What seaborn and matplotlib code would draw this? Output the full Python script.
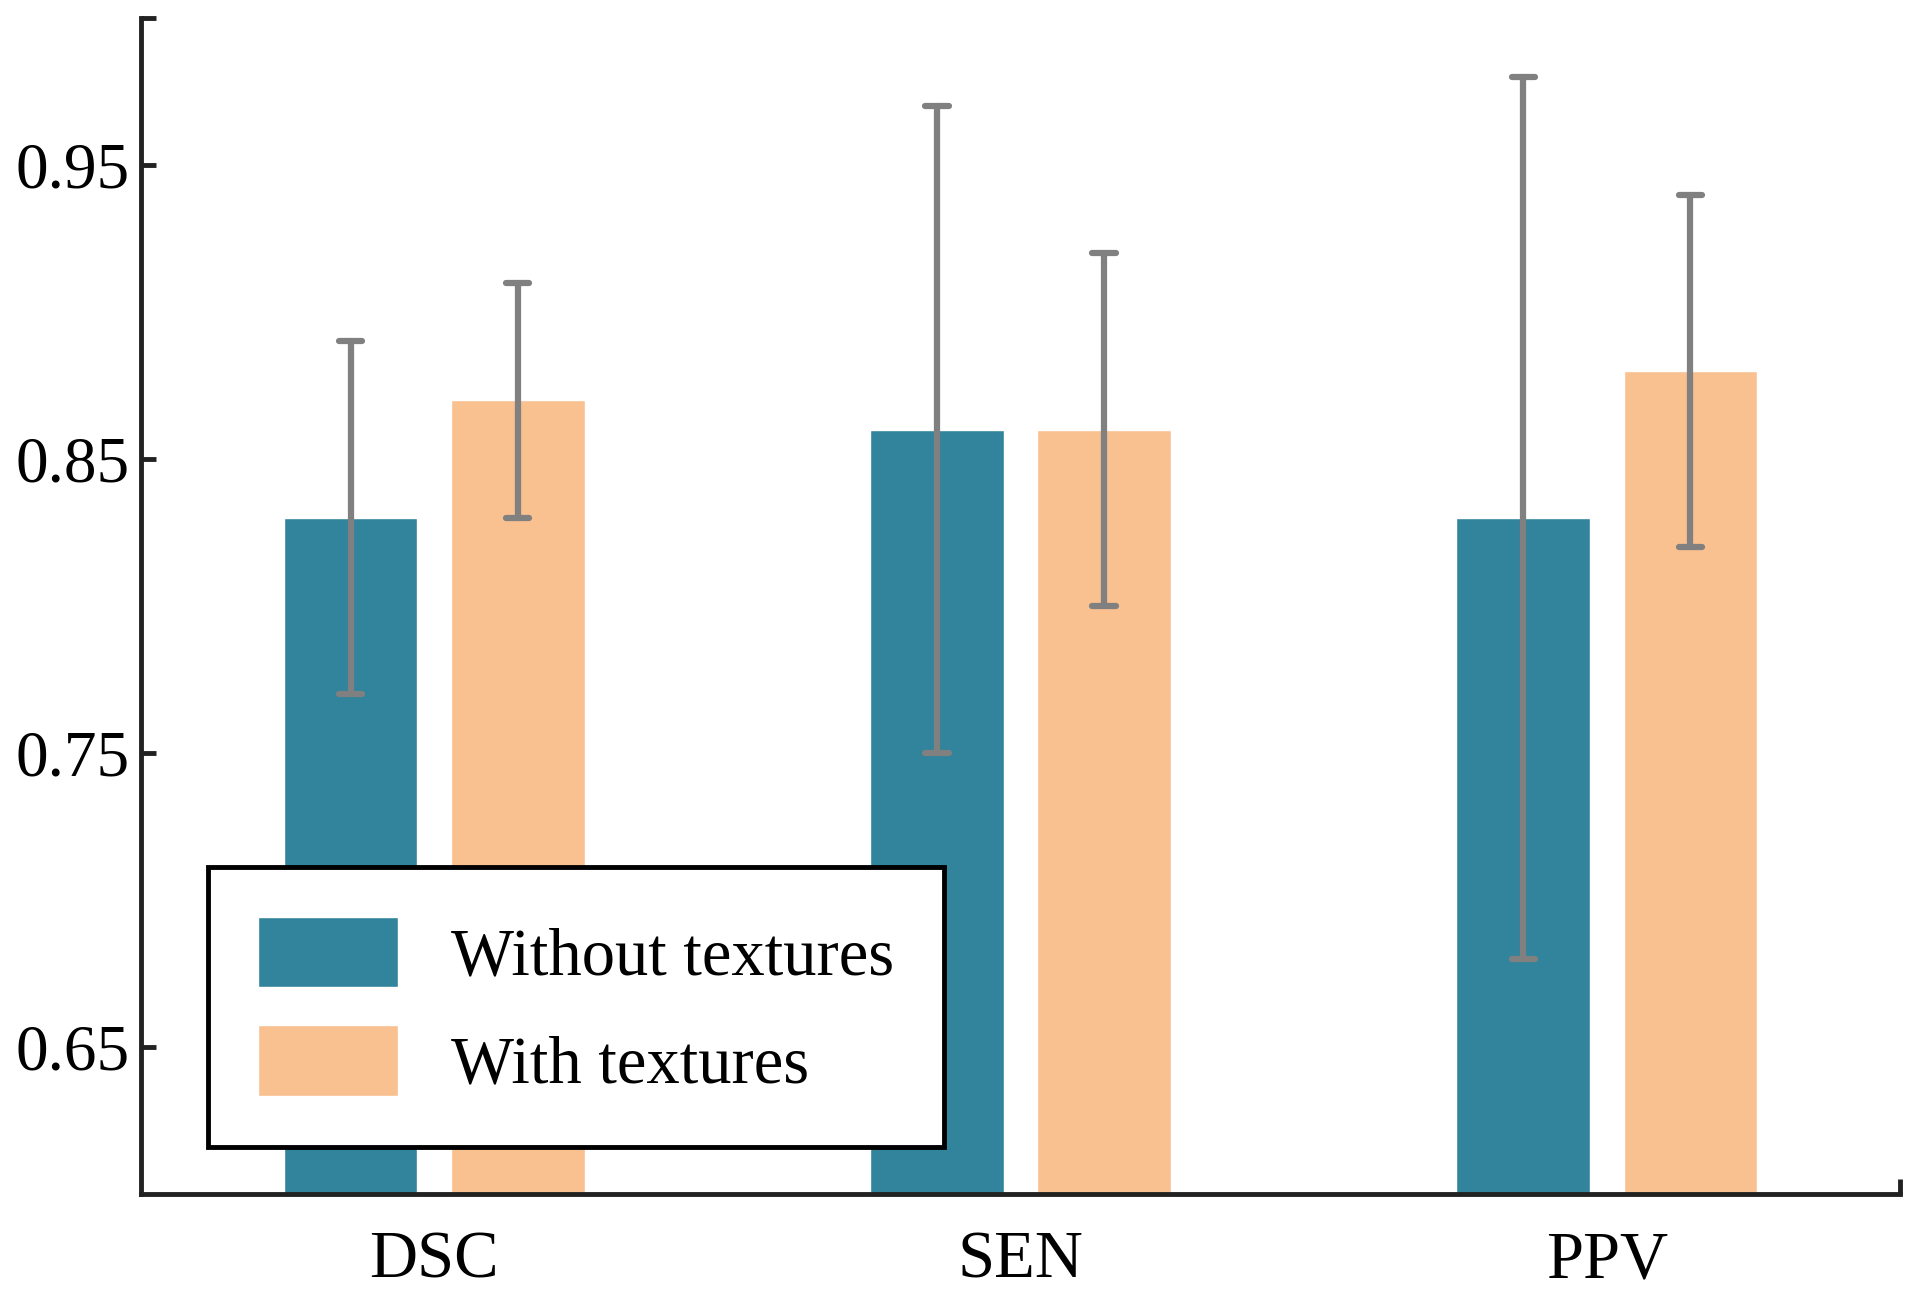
import numpy as np
import pandas as pd
import matplotlib
matplotlib.use("Agg")
import matplotlib.pyplot as plt
import seaborn as sns

metrics = ["DSC", "SEN", "PPV"]
conditions = ["Without textures", "With textures"]
means_without = [0.83, 0.86, 0.83]
errs_without = [0.06, 0.11, 0.15]
means_with = [0.87, 0.86, 0.88]
errs_with = [0.04, 0.06, 0.06]
yticks = [0.65, 0.75, 0.85, 0.95]
colors = ["#31849B", "#F9C090"]

rows = []
for cond, means, errs in [(conditions[0], means_without, errs_without),
                          (conditions[1], means_with, errs_with)]:
    for m, mu, e in zip(metrics, means, errs):
        rows.append({"metric": m, "condition": cond, "value": mu - e})
        rows.append({"metric": m, "condition": cond, "value": mu + e})
df = pd.DataFrame(rows)

sns.set_theme(style="white")
plt.rcParams["font.family"] = ["Liberation Serif", "DejaVu Serif"]
plt.rcParams["text.color"] = "black"

fig = plt.figure(figsize=(19.2, 12.95), dpi=100)
ax = fig.add_axes([0.0734, 0.078, 0.9896 - 0.0734, 0.986 - 0.078])

sns.barplot(data=df, x="metric", y="value", hue="condition",
            order=metrics, hue_order=conditions, palette=colors,
            estimator="mean", errorbar=("pi", 100), saturation=1,
            width=0.57, gap=0.2, capsize=0.08,
            err_kws={"color": "#808080", "linewidth": 4.5},
            ax=ax)

ax.set_xlim(-0.5, 2.5)
ax.set_ylim(0.6, 1.0)
ax.set_xlabel("")
ax.set_ylabel("")
ax.set_yticks(yticks)
ax.set_yticklabels([f"{t:.2f}" for t in yticks])
ax.set_yticks([1.0], minor=True)
ax.set_xticks([2.5], minor=True)

for s in ["top", "right"]:
    ax.spines[s].set_visible(False)
for s in ["left", "bottom"]:
    ax.spines[s].set_color("#222222")
    ax.spines[s].set_linewidth(3.5)

ax.tick_params(axis="y", which="both", direction="in", length=11, width=3.5,
               color="#222222", labelsize=47, pad=8, left=True)
ax.tick_params(axis="x", which="major", length=0, labelsize=48, pad=26)
ax.tick_params(axis="x", which="minor", direction="in", length=11, width=3.5,
               color="#222222", bottom=True)
for lab in ax.get_xticklabels() + ax.get_yticklabels():
    lab.set_color("black")

leg = ax.legend(loc="lower left", bbox_to_anchor=(0.038, 0.040),
                bbox_transform=ax.transAxes, borderaxespad=0,
                fontsize=48, frameon=True, fancybox=False,
                handlelength=2.1, handleheight=1.25, handletextpad=0.8,
                labelspacing=0.55, borderpad=0.75)
for t in leg.get_texts():
    t.set_color("black")
leg.get_frame().set_edgecolor("black")
leg.get_frame().set_linewidth(3.5)
leg.get_frame().set_facecolor("white")
leg.get_frame().set_alpha(1)

fig.savefig("out.png", dpi=100)
